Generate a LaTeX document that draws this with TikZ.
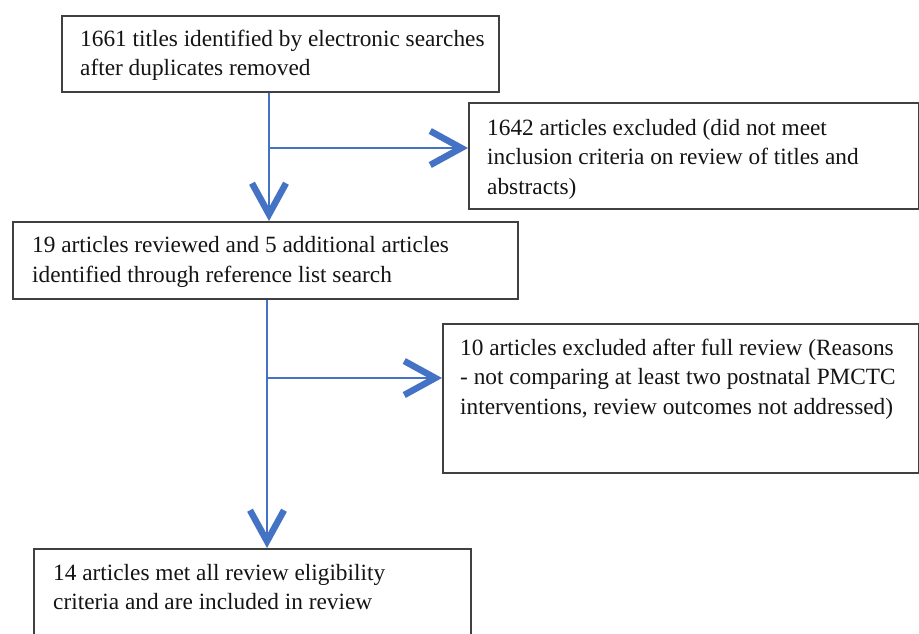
\documentclass[tikz,border=0pt]{standalone}
\usepackage{fontspec}
\setmainfont{Liberation Serif}
\usetikzlibrary{arrows.meta}
\definecolor{flowblue}{RGB}{68,114,196}
\definecolor{boxgray}{RGB}{64,64,64}
\definecolor{txt}{RGB}{20,20,20}
\begin{document}
\begin{tikzpicture}[x=1pt,y=-1pt,
  box/.style={draw=boxgray, line width=1.5pt, rectangle, inner sep=0pt, anchor=north west},
  boxtext/.style={anchor=base west, inner sep=0pt, align=left, text=txt,
    font=\fontsize{23.3}{29.5}\selectfont},
  flow/.style={draw=flowblue, line width=2pt,
    -{Straight Barb[length=31pt,width=34pt,line width=6.5pt]}}]
\clip (0,0) rectangle (919,633);
\fill[white] (0,0) rectangle (919,633);
% boxes
\node[box, minimum width=437pt, minimum height=76pt]  (n1) at (61,15) {};
\node[box, minimum width=450pt, minimum height=106pt] (n2) at (468,102) {};
\node[box, minimum width=505pt, minimum height=77pt]  (n3) at (12,221) {};
\node[box, minimum width=476pt, minimum height=149pt] (n4) at (442,323) {};
\node[box, minimum width=437pt, minimum height=140pt] (n5) at (33,548) {};
% texts (anchor = baseline of the last line)
\node[boxtext] (t1) at (80,75.5) {1661 titles identified by electronic searches\\after duplicates removed};
\node[boxtext] (t2) at (487,194) {1642 articles excluded (did not meet\\inclusion criteria on review of titles and\\abstracts)};
\node[boxtext] (t3) at (32,282) {19 articles reviewed and 5 additional articles\\identified through reference list search};
\node[boxtext] (t4) at (460,414) {10 articles excluded after full review (Reasons\\- not comparing at least two postnatal PMCTC\\interventions, review outcomes not addressed)};
\node[boxtext] (t5) at (53,609.5) {14 articles met all review eligibility\\criteria and are included in review};
% connectors
\coordinate (j1) at (269,148);
\coordinate (j2) at (267,378);
\draw[flow] (j1 |- n1.south) -- (j1 |- n3.north);
\draw[flow] (j1) -- (j1 -| n2.west);
\draw[flow] (j2 |- n3.south) -- (j2 |- n5.north);
\draw[flow] (j2) -- (j2 -| n4.west);
\end{tikzpicture}
\end{document}
